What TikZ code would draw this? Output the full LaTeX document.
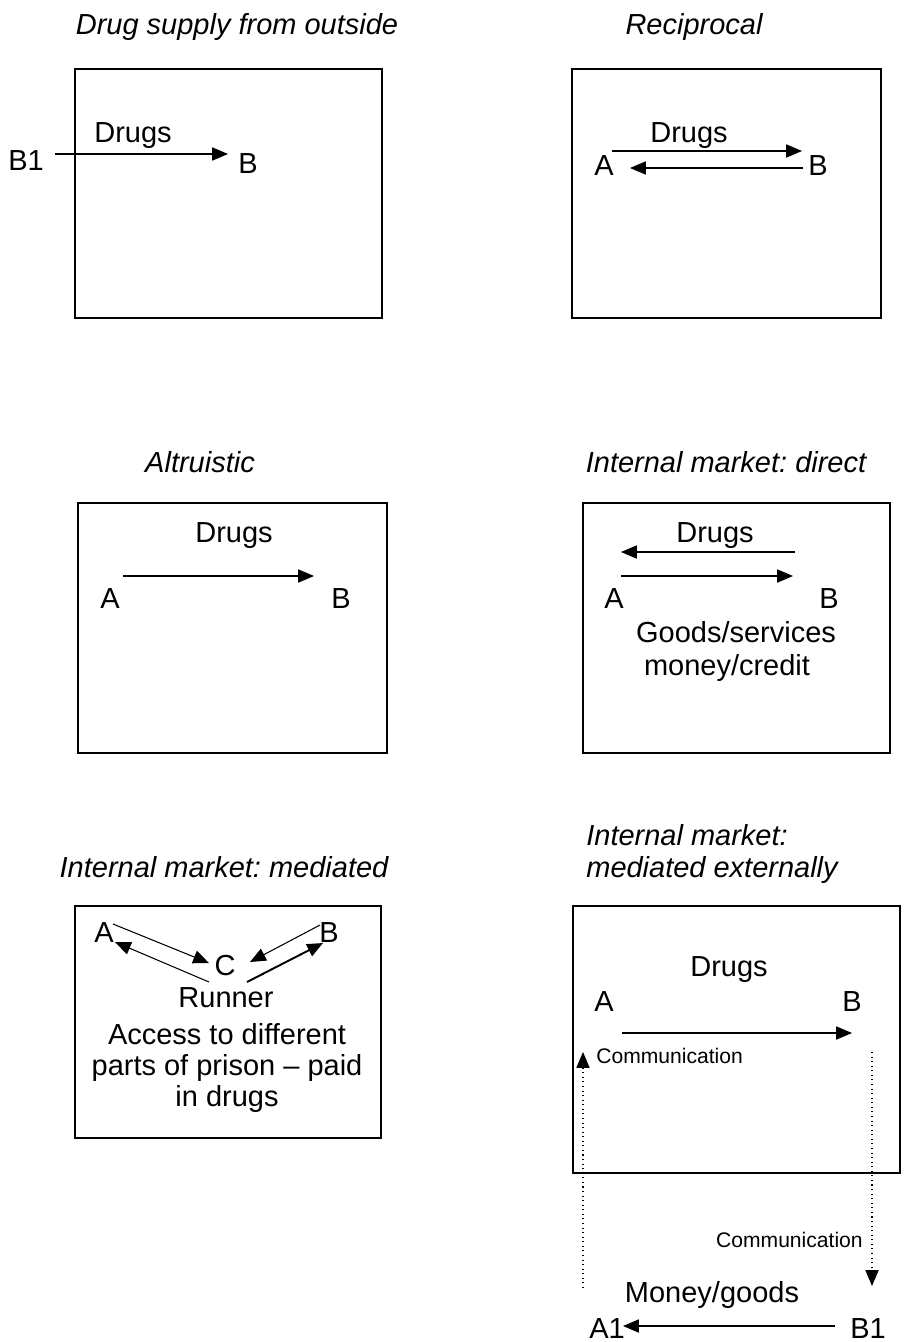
\documentclass[tikz,border=0pt]{standalone}
\usepackage{fontspec}
\setmainfont{Liberation Sans}
\usetikzlibrary{arrows.meta,positioning,calc}

\newcommand{\labfont}{\fontsize{16.5}{17.6}\selectfont}
\newcommand{\commfont}{\fontsize{12}{14}\selectfont}

\tikzset{
  box/.style={line width=1.1pt},
  lbl/.style={anchor=base, inner sep=0pt, font=\labfont},
  ttl/.style={lbl, font=\labfont\itshape},
  comm/.style={anchor=base west, inner sep=0pt, font=\commfont},
  arr/.style={-{Triangle[length=9pt,width=7.5pt]}, line width=0.6pt},
  dots/.style={dotted, line width=0.6pt},
}

\begin{document}
\frenchspacing
\begin{tikzpicture}[x=0.02cm, y=-0.02cm]
      \useasboundingbox (0,0) rectangle (906,1342);

      % Drug supply from outside
      \node[ttl] (t1) at (237,34) {Drug supply from outside};
      \draw[box] (75,69) rectangle (382,318);
      \node[lbl] (d1) at (133,142) {Drugs};
      \node[lbl] (o1B1) at (26,170) {B1};
      \node[lbl] (o1B) at (248,173) {B};
      \coordinate (o1s) at (55,154);
      \coordinate (o1e) at (228,154);
      \draw[arr] (o1s) -- (o1e);

      % Reciprocal
      \node[ttl] (t2) at (694,34) {Reciprocal};
      \draw[box] (572,69) rectangle (881,318);
      \node[lbl] (d2) at (689,142) {Drugs};
      \node[lbl] (r2A) at (604,175) {A};
      \node[lbl] (r2B) at (818,175) {B};
      \coordinate (r2a) at (612,151);
      \coordinate (r2b) at (802,151);
      \coordinate (r2c) at (803,168);
      \coordinate (r2d) at (630,168);
      \draw[arr] (r2a) -- (r2b);
      \draw[arr] (r2c) -- (r2d);

      % Altruistic
      \node[ttl] (t3) at (200,472) {Altruistic};
      \draw[box] (78,503) rectangle (387,753);
      \node[lbl] (d3) at (234,542) {Drugs};
      \node[lbl] (a3A) at (110,608) {A};
      \node[lbl] (a3B) at (341,608) {B};
      \coordinate (a3s) at (123,576);
      \coordinate (a3e) at (314,576);
      \draw[arr] (a3s) -- (a3e);

      % Internal market: direct
      \node[ttl] (t4) at (726,472) {Internal market: direct};
      \draw[box] (583,503) rectangle (890,753);
      \node[lbl] (d4) at (715,542) {Drugs};
      \node[lbl] (m4A) at (614,608) {A};
      \node[lbl] (m4B) at (829,608) {B};
      \node[lbl] (g4) at (736,642) {Goods/services};
      \node[lbl] (c4) at (727,675) {money/credit};
      \coordinate (m4a) at (795,552);
      \coordinate (m4b) at (621,552);
      \coordinate (m4c) at (621,576);
      \coordinate (m4d) at (793,576);
      \draw[arr] (m4a) -- (m4b);
      \draw[arr] (m4c) -- (m4d);

      % Internal market: mediated
      \node[ttl] (t5) at (224,877) {Internal market: mediated};
      \draw[box] (75,906) rectangle (381,1138);
      \node[lbl] (m5A) at (104,942) {A};
      \node[lbl] (m5B) at (329,942) {B};
      \node[lbl] (m5C) at (225,975) {C};
      \coordinate (m5a) at (113,924);
      \coordinate (m5b) at (209,963);
      \coordinate (m5c) at (209,982);
      \coordinate (m5d) at (115,942);
      \coordinate (m5e) at (320,925);
      \coordinate (m5f) at (250,962);
      \coordinate (m5g) at (247,982);
      \coordinate (m5h) at (323,943);
      \draw[arr] (m5a) -- (m5b);
      \draw[arr] (m5c) -- (m5d);
      \draw[arr] (m5e) -- (m5f);
      \draw[arr, line width=1.1pt] (m5g) -- (m5h);
      \node[lbl] (run) at (226,1007) {Runner};
      \node[lbl] (acc1) at (227,1044) {Access to different};
      \node[lbl] (acc2) at (227,1075) {parts of prison -- paid};
      \node[lbl] (acc3) at (227,1106) {in drugs};

      % Internal market: mediated externally
      \node[ttl, anchor=base west] (t6a) at (586,845) {Internal market:};
      \node[ttl, anchor=base west] (t6b) at (586,877) {mediated externally};
      \draw[box] (573,906) rectangle (900,1173);
      \node[lbl] (d6) at (729,976) {Drugs};
      \node[lbl] (x6A) at (604,1011) {A};
      \node[lbl] (x6B) at (852,1011) {B};
      \coordinate (x6a) at (622,1033);
      \coordinate (x6b) at (852,1033);
      \draw[arr] (x6a) -- (x6b);
      \node[comm] (com1) at (596,1063) {Communication};
      \node[comm, anchor=base east] (com2) at (863,1247) {Communication};
      \node[lbl] (mg) at (712,1302) {Money/goods};
      \node[lbl] (x6A1) at (607,1338) {A1};
      \node[lbl] (x6B1) at (868,1338) {B1};
      \coordinate (up0) at (583,1288);
      \coordinate (up1) at (583,1052);
      \coordinate (dn0) at (872,1052);
      \coordinate (dn1) at (872,1286);
      \draw[dots, arr] (up0) -- (up1);
      \draw[dots, arr] (dn0) -- (dn1);
      \coordinate (x6c) at (835,1326);
      \coordinate (x6d) at (623,1326);
      \draw[arr] (x6c) -- (x6d);
    \end{tikzpicture}
\end{document}
